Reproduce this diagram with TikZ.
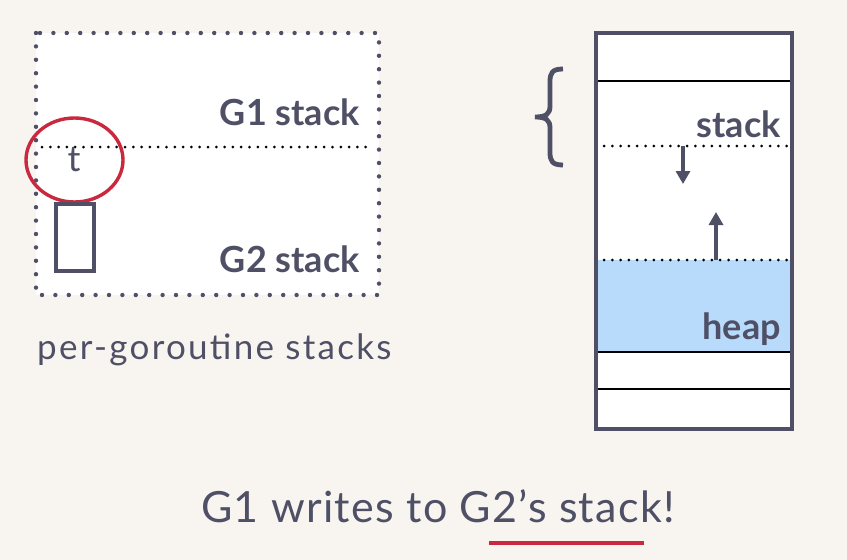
\documentclass[tikz,border=0pt]{standalone}
\usepackage{fontspec}
\usetikzlibrary{shapes.geometric,arrows.meta}
\setmainfont{Lato}
\definecolor{bg}{HTML}{F8F5F1}
\definecolor{ink}{HTML}{4F5066}
\definecolor{redc}{HTML}{C9283E}
\definecolor{bluefill}{HTML}{B8DBFC}
\begin{document}
\begin{tikzpicture}[x=1pt,y=-1pt,
  lbl/.style={inner sep=0pt,text=ink},
  boldlbl/.style={lbl,font=\fontsize{36}{40}\selectfont\bfseries,anchor=base east},
  borderdots/.style={draw=ink,line width=4.4pt,line cap=round,dash pattern=on 0pt off 13.4pt},
  innerdots/.style={draw=black,line width=3pt,line cap=round,dash pattern=on 0pt off 8.3pt},
  thinline/.style={draw=black,line width=2pt},
  growarrow/.style={draw=ink,line width=3.4pt,-{Triangle[length=13pt,width=14pt]}}]
\fill[bg] (0,0) rectangle (847,560);
\useasboundingbox (0,0) rectangle (847,560);
% left box
\fill[white] (36,33) rectangle (379,295);
\draw[borderdots] (36,33) rectangle (379,295);
\coordinate (ml) at (42,147);
\coordinate (mr) at (372,147);
\draw[innerdots] (ml) -- (mr);
\node[boldlbl] (g1) at (360,125) {G1 stack};
\node[boldlbl] (g2) at (360,272) {G2 stack};
\node[lbl,font=\fontsize{36}{40}\selectfont,anchor=base] (t) at (74,171) {t};
\node[draw=redc,line width=3.4pt,ellipse,minimum width=97pt,minimum height=84pt,inner sep=0pt] (circ) at (74.5,160) {};
\node[draw=ink,line width=4.4pt,fill=white,minimum width=38pt,minimum height=67pt,inner sep=0pt] (slot) at (75,237.5) {};
\node[lbl,font=\fontsize{35}{40}\selectfont\addfontfeature{LetterSpace=6.5},anchor=base west] (cap) at (37,359) {per-goroutine stacks};
% right column
\fill[white] (596,33) rectangle (792,429);
\fill[bluefill] (596,260) rectangle (792,352);
\coordinate (l1a) at (596,81); \coordinate (l1b) at (792,81);
\coordinate (l2a) at (596,352); \coordinate (l2b) at (792,352);
\coordinate (l3a) at (596,389); \coordinate (l3b) at (792,389);
\draw[thinline] (l1a) -- (l1b);
\draw[thinline] (l2a) -- (l2b);
\draw[thinline] (l3a) -- (l3b);
\coordinate (d1a) at (604,146); \coordinate (d1b) at (790,146);
\coordinate (d2a) at (604,260); \coordinate (d2b) at (790,260);
\draw[innerdots] (d1a) -- (d1b);
\draw[innerdots] (d2a) -- (d2b);
\draw[draw=ink,line width=4.4pt] (596,33) rectangle (792,429);
\node[boldlbl] (stk) at (781,137) {stack};
\node[boldlbl] (hp) at (781,339) {heap};
\coordinate (a1s) at (683,146); \coordinate (a1e) at (683,184);
\coordinate (a2s) at (716,260); \coordinate (a2e) at (716,212);
\draw[growarrow] (a1s) -- (a1e);
\draw[growarrow] (a2s) -- (a2e);
% brace
\draw[ink,line width=4.8pt] (563,69) .. controls (552,69) and (550,73) .. (550,82)
  -- (550,106) .. controls (550,114) and (546,117) .. (535,117)
  .. controls (546,117) and (550,120) .. (550,128)
  -- (550,152) .. controls (550,161) and (552,165) .. (563,165);
% bottom
\node[lbl,font=\fontsize{43}{48}\selectfont\addfontfeature{LetterSpace=3},anchor=base] (msg) at (438,522) {G1 writes to G2’s stack!};
\coordinate (ua) at (489,543); \coordinate (ub) at (644,543);
\draw[redc,line width=4pt] (ua) -- (ub);
\end{tikzpicture}
\end{document}
